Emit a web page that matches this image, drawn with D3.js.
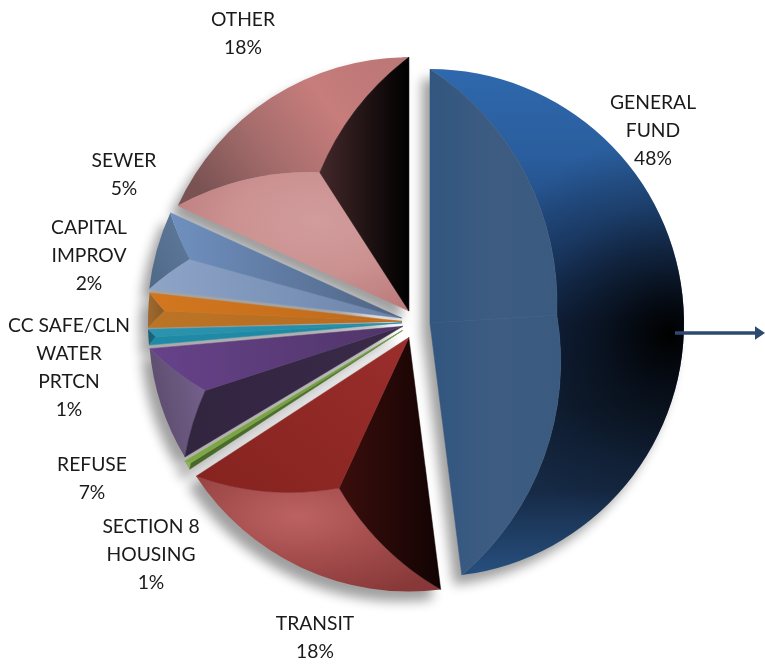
<!DOCTYPE html>
<html>
<head>
<meta charset="utf-8">
<title>Budget pie</title>
<script src="https://cdn.jsdelivr.net/npm/d3@7"></script>
<style>
  html, body { margin: 0; padding: 0; background: #fff; }
  svg { display: block; }
  text { font-family: Lato, "Open Sans", sans-serif; font-size: 19.3px; fill: #1a1a1a; text-anchor: middle; }
</style>
</head>
<body>
<svg id="chart" width="765" height="665"></svg>
<script>
"use strict";

// Chart values, clockwise from 12 o'clock.
const categories = ["GENERAL FUND", "TRANSIT", "SECTION 8 HOUSING", "REFUSE",
  "CC SAFE/CLN WATER PRTCN", "CAPITAL IMPROV", "SEWER", "OTHER"];
const sliceValues = [48, 17.8, 0.6, 7.2, 1, 2.2, 5, 18.2];
const percentLabels = ["48%", "18%", "1%", "7%", "1%", "2%", "5%", "18%"];
const labelLines = [["GENERAL", "FUND"], ["TRANSIT"], ["SECTION 8", "HOUSING"], ["REFUSE"],
  ["CC SAFE/CLN", "WATER", "PRTCN"], ["CAPITAL", "IMPROV"], ["SEWER"], ["OTHER"]];

// Layout.
const center = { x: 416, y: 322 },
    radius = 254,
    bevelCurve = 280,
    explode = [14, 17, 16, 14, 14, 14, 15, 13],
    nudgeY = [2, 0, 0, 0, 0, 0, 0, 0],
    labelPos = [[653, 109], [315, 630], [151, 533], [92, 471], [69, 332], [89, 234], [124, 167], [243, 26]],
    lineHeight = 28,
    shadow = { dx: -8, dy: 10, blur: 6, opacity: 0.38 };

// Facet fills: outer, start-side and end-side faces of each slice.
const lin = (a, x1, y1, x2, y2, user) => ({ type: "l", stops: a, x1, y1, x2, y2, user }),
    rad = (a, cx, cy, r, user) => ({ type: "r", stops: a, cx, cy, r, user });

const generalFace = lin(["#31567f", "#3e5c82", "#3a5a80"], 0, 0, 130, 0, true);

const facets = [
  { outer: lin(["#2f68ad", "#2a5e9e", "#20467a", "#14294a", "#12233b", "#162a46", "#27507f"], 0, -253, 0, 252, true),
    over: rad([["#000", 1], ["#000", 0.55], ["#000", 0.2], ["#000", 0]], 240, 12, 200, true),
    start: generalFace, end: generalFace },
  { outer: rad(["#bd6262", "#a34c4c", "#883838"], 0.42, 0.35, 0.75),
    start: lin(["#3a0e0c", "#120303"], 0, 0, 1, 0), end: lin(["#85231f", "#9a2e2c"], 0, 1, 1, 0) },
  { outer: lin(["#8fb05a", "#8fb05a"], 0, 0, 1, 0),
    start: lin(["#48662a", "#567a30"], 0, 1, 1, 0), end: lin(["#7ea845", "#6f9a3a"], 0, 1, 1, 0) },
  { outer: lin(["#75608c", "#5a4a6a"], 1, 0.3, 0, 0.7),
    start: lin(["#322540", "#3a2a48"], 0, 0, 1, 0), end: lin(["#67428a", "#4f3568"], 0, 0, 1, 0) },
  { outer: lin(["#175f72", "#1a6a80"], 0, 0, 1, 0),
    start: lin(["#1f8aa6", "#1f8aa6"], 0, 0, 1, 0), end: lin(["#2a93ad", "#268ca6"], 0, 0, 1, 0) },
  { outer: lin(["#a06a2e", "#8a5a28"], 0, 0, 1, 0),
    start: lin(["#bb7426", "#b86a1f"], 0, 0, 1, 0), end: lin(["#d2771f", "#c0691a"], 0, 0, 1, 0) },
  { outer: lin(["#4f6988", "#5f7a9c"], 0, 1, 1, 0),
    start: lin(["#8ea5c8", "#6b83aa"], 0, 0, 1, 0), end: lin(["#6f90bf", "#4f6484"], 0, 0, 1, 0) },
  { outer: lin(["#7a5252", "#a56c6c", "#c67d7b", "#bd7777"], 0, 0.7, 1, 0.2),
    start: rad(["#d29c9c", "#cc9292", "#bd7c7c"], 0.6, 0.35, 0.7), end: lin(["#44282a", "#000"], 0, 0, 1, 0) }
];

const svg = d3.select("#chart"),
    defs = svg.append("defs");

defs.append("filter")
    .attr("id", "blur")
    .attr("x", "-30%").attr("y", "-30%")
    .attr("width", "160%").attr("height", "160%")
    .append("feGaussianBlur")
    .attr("stdDeviation", shadow.blur);

let gradientId = 0;

// Adds a gradient and returns its url.
const addGradient = (g) => {
  const id = "grad" + (gradientId++);
  const el = g.type === "l"
    ? defs.append("linearGradient").attr("x1", g.x1).attr("y1", g.y1).attr("x2", g.x2).attr("y2", g.y2)
    : defs.append("radialGradient").attr("cx", g.cx).attr("cy", g.cy).attr("r", g.r);
  el.attr("id", id);
  if (g.user) el.attr("gradientUnits", "userSpaceOnUse");
  g.stops.forEach((s, i) => {
    const c = Array.isArray(s) ? s[0] : s,
        o = Array.isArray(s) ? s[1] : 1;
    el.append("stop")
        .attr("offset", i / (g.stops.length - 1))
        .attr("stop-color", c)
        .attr("stop-opacity", o);
  });
  return "url(#" + id + ")";
};

const pie = d3.pie().sort(null).value((d) => d);
const arcs = pie(sliceValues);

const polar = (r, angle) => [r * Math.sin(angle), -r * Math.cos(angle)];

const sliceArc = d3.arc().innerRadius(0).outerRadius(radius);

const sliceOrigin = (d, i) => {
  const mid = (d.startAngle + d.endAngle) / 2,
      [ox, oy] = polar(explode[i], mid);
  return [center.x + ox, center.y + oy + nudgeY[i]];
};

// Shadows go under every slice.
svg.append("g")
    .attr("filter", "url(#blur)")
    .attr("opacity", shadow.opacity)
    .selectAll("path")
    .data(arcs)
    .enter().append("path")
    .attr("d", sliceArc)
    .attr("fill", "#000")
    .attr("transform", (d, i) => {
      const [x, y] = sliceOrigin(d, i);
      return "translate(" + (x + shadow.dx) + "," + (y + shadow.dy) + ")";
    });

const slice = svg.append("g")
    .selectAll("g")
    .data(arcs)
    .enter().append("g")
    .attr("class", "slice")
    .attr("transform", (d, i) => "translate(" + sliceOrigin(d, i) + ")");

slice.each(function (d, i) {
  const g = d3.select(this),
      half = (d.endAngle - d.startAngle) / 2,
      mid = d.startAngle + half,
      // The three faces meet at the centre of the circle inscribed in the slice.
      q = polar(radius / (1 + Math.sin(half)), mid),
      a = polar(radius, d.startAngle),
      b = polar(radius, d.endAngle),
      bend = (p, sweep) => "A" + bevelCurve + "," + bevelCurve + " 0 0 " + sweep + " " + p[0] + "," + p[1];

  const outer = d3.path();
  outer.arc(0, 0, radius, d.startAngle - Math.PI / 2, d.endAngle - Math.PI / 2);
  const outerPath = outer.toString() + bend(q, 0) + bend(a, 0) + "Z";

  g.append("path").attr("d", outerPath).attr("fill", addGradient(facets[i].outer));
  if (facets[i].over) {
    g.append("path").attr("d", outerPath).attr("fill", addGradient(facets[i].over));
  }
  // A hair of stroke in the face's own fill hides the seam between faces.
  const startFill = addGradient(facets[i].start),
      endFill = addGradient(facets[i].end);
  g.append("path")
      .attr("d", "M0,0L" + a + bend(q, 1) + "Z")
      .attr("fill", startFill)
      .attr("stroke", startFill)
      .attr("stroke-width", 0.5);
  g.append("path")
      .attr("d", "M0,0L" + q + bend(b, 1) + "Z")
      .attr("fill", endFill)
      .attr("stroke", endFill)
      .attr("stroke-width", 0.5);
});

// Labels.
const label = svg.append("g")
    .selectAll("text")
    .data(categories)
    .enter().append("text")
    .attr("class", "label")
    .attr("transform", (d, i) => "translate(" + labelPos[i] + ")");

label.selectAll("tspan")
    .data((d, i) => labelLines[i].concat(percentLabels[i]))
    .enter().append("tspan")
    .attr("x", 0)
    .attr("y", (d, i) => i * lineHeight)
    .text((d) => d);

// Arrow leaving the general fund slice.
const arrowColor = "#2c4a70",
    arrow = { x1: 675, x2: 755, y: 333, end: 765, head: 6.7 };

svg.append("line")
    .attr("x1", arrow.x1).attr("x2", arrow.x2)
    .attr("y1", arrow.y).attr("y2", arrow.y)
    .attr("stroke", arrowColor)
    .attr("stroke-width", 3.5);

svg.append("path")
    .attr("d", d3.line()([[arrow.x2, arrow.y - arrow.head], [arrow.end, arrow.y], [arrow.x2, arrow.y + arrow.head]]) + "Z")
    .attr("fill", arrowColor);
</script>
</body>
</html>
